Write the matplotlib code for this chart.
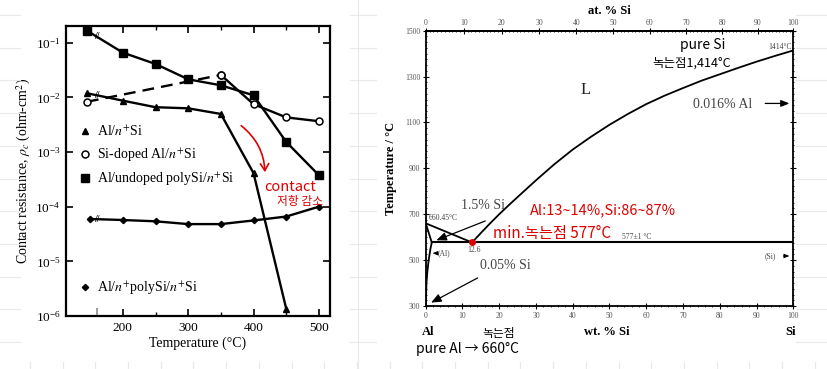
import numpy as np
import matplotlib
matplotlib.use("Agg")
import matplotlib.pyplot as plt
from matplotlib.lines import Line2D
from matplotlib.patches import FancyArrowPatch
from matplotlib.ticker import FixedLocator, NullLocator, LogLocator

plt.rcParams['font.family'] = ['Liberation Serif', 'Noto Sans CJK KR', 'DejaVu Sans']
plt.rcParams['mathtext.fontset'] = 'stix'

# ---------------- data: contact resistance (left) ----------------
T_sq = [145, 200, 250, 300, 350, 400, 450, 500]
rho_sq = [0.166, 0.0658, 0.0408, 0.0214, 0.0166, 0.0109, 0.00153, 0.000376]
T_circ_dash = [145, 350]
rho_circ_dash = [0.0083, 0.0257]
T_circ = [350, 400, 450, 500]
rho_circ = [0.0257, 0.0075, 0.0043, 0.00366]
T_tri = [145, 200, 250, 300, 350, 400, 450]
rho_tri = [0.0119, 0.0087, 0.0066, 0.0063, 0.00497, 0.00041, 1.36e-6]
T_dia = [150, 200, 250, 300, 350, 400, 450, 500]
rho_dia = [5.96e-5, 5.7e-5, 5.4e-5, 4.8e-5, 4.8e-5, 5.6e-5, 6.6e-5, 1.0e-4]
T_ticks = [200, 300, 400, 500]
BREAK_T = 160

# ---------------- data: Al-Si phase diagram (right) ----------------
liq_si_wt = [12.6, 15, 17.5, 20, 22.5, 25, 30, 35, 40, 45, 50, 55, 60, 65, 70, 75, 80, 85, 90, 95, 100]
liq_si_T = [577, 618, 660, 700, 738, 775, 848, 918, 982, 1038, 1090, 1137, 1180, 1217, 1250, 1282,
            1310, 1338, 1365, 1390, 1414]
liq_al_wt = [0, 12.6]
liq_al_T = [660.45, 577]
sol_al_wt = [0, 1.65]
sol_al_T = [660.45, 577]
solvus_wt = [1.65, 1.3, 0.8, 0.45, 0.2, 0.05]
solvus_T = [577, 550, 500, 450, 400, 300]
eut_wt = [1.65, 100]
eut_T = [577, 577]
eut_point = (12.6, 577)
temp_ticks = [300, 500, 700, 900, 1100, 1300, 1500]
pct_ticks = list(range(0, 101, 10))

W, H = 828, 369
fig = plt.figure(figsize=(W / 100, H / 100), dpi=100)
fig.patch.set_facecolor('white')


def fx(px):
    return px / W


def fy(py):
    return 1 - py / H


# faint notebook grid in margins
gcol = '#e9e9e9'
for gy in np.arange(15, 369, 32.7):
    for x0, x1 in [(0, 20), (350, 376), (796, 828)]:
        fig.add_artist(Line2D([fx(x0), fx(x1)], [fy(gy), fy(gy)], color=gcol, lw=0.8))
fig.add_artist(Line2D([fx(358), fx(358)], [0, 1], color=gcol, lw=0.8))
for gx in np.arange(30, 828, 32.7):
    fig.add_artist(Line2D([fx(gx), fx(gx)], [fy(362), fy(369)], color=gcol, lw=0.8))

# ================= LEFT PANEL =================
ax = fig.add_axes([fx(66), fy(316), fx(330) - fx(66), fy(26) - fy(316)])
ax.set_yscale('log')
ax.set_xlim(113, 517)
ax.set_ylim(1e-6, 0.202)
lw = 1.7
ax.plot(T_sq, rho_sq, color='black', lw=lw, marker='s', ms=5.5)
ax.plot(T_circ_dash, rho_circ_dash, color='black', lw=lw, ls=(0, (5, 3)), marker='o', ms=5,
        mfc='white', mew=1.1)
ax.plot(T_circ, rho_circ, color='black', lw=lw, marker='o', ms=5, mfc='white', mew=1.1)
ax.plot(T_tri, rho_tri, color='black', lw=lw, marker='^', ms=5)
ax.plot(T_dia, rho_dia, color='black', lw=lw, marker='D', ms=3.2)

# break marks
for Ts, rs in [(T_sq, rho_sq), (T_tri, rho_tri), (T_dia, rho_dia)]:
    yb = 10 ** np.interp(BREAK_T, Ts, np.log10(rs))
    ax.text(BREAK_T, yb, '//', fontsize=7, ha='center', va='center', fontweight='bold')
ax.text(BREAK_T, 1e-6, '||', fontsize=6, ha='center', va='bottom')

ax.xaxis.set_major_locator(FixedLocator(T_ticks))
ax.xaxis.set_minor_locator(FixedLocator([250, 350, 450]))
ax.yaxis.set_major_locator(LogLocator(base=10, numticks=10))
ax.yaxis.set_minor_locator(NullLocator())
ax.tick_params(which='both', direction='in', top=True, right=True, labelsize=9.5, pad=4)
ax.tick_params(which='major', length=5, width=1.2)
ax.tick_params(which='minor', length=3, width=1)
for s in ax.spines.values():
    s.set_linewidth(1.6)
ax.set_xlabel('Temperature (°C)', fontsize=10, labelpad=2)
ax.set_ylabel(r'Contact resistance, $\rho_c$ (ohm-cm$^2$)', fontsize=10, labelpad=2)

h_tri = Line2D([], [], color='black', marker='^', ms=5, ls='none')
h_circ = Line2D([], [], color='black', marker='o', ms=5, mfc='white', mew=1.1, ls='none')
h_sq = Line2D([], [], color='black', marker='s', ms=5.5, ls='none')
h_dia = Line2D([], [], color='black', marker='D', ms=3.2, ls='none')
leg1 = ax.legend([h_tri, h_circ, h_sq],
                 [r'Al/$n^{+}$Si', r'Si-doped Al/$n^{+}$Si', r'Al/undoped polySi/$n^{+}$Si'],
                 loc='upper left', bbox_to_anchor=(0.05, 0.66), frameon=False, fontsize=10,
                 handlelength=0.8, handletextpad=0.5, labelspacing=0.5, borderpad=0, borderaxespad=0)
ax.add_artist(leg1)
ax.legend([h_dia], [r'Al/$n^{+}$polySi/$n^{+}$Si'], loc='upper left', bbox_to_anchor=(0.05, 0.125),
          frameon=False, fontsize=10, handlelength=0.8, handletextpad=0.5, borderpad=0, borderaxespad=0)

# red handwritten annotation
fig.add_artist(FancyArrowPatch((fx(239), fy(124)), (fx(265), fy(175)), transform=fig.transFigure,
                               connectionstyle='arc3,rad=-0.25', arrowstyle='->,head_length=5,head_width=3',
                               color='#e00000', lw=1.2))
kfam = ['Noto Sans CJK KR', 'DejaVu Sans']
fig.text(fx(290), fy(187), 'contact', color='#e00000', fontsize=10.5, ha='center', va='center', family=kfam)
fig.text(fx(300), fy(201), '저항 감소', color='#e00000', fontsize=8.5, ha='center', va='center', family=kfam)

# ================= RIGHT PANEL =================
bx = fig.add_axes([fx(425.7), fy(306), fx(793.3) - fx(425.7), fy(30.7) - fy(306)])
bx.set_xlim(0, 100)
bx.set_ylim(300, 1500)
lc = 'black'
bx.plot(liq_si_wt, liq_si_T, color=lc, lw=1.3)
bx.plot(liq_al_wt, liq_al_T, color=lc, lw=1.3)
bx.plot(sol_al_wt, sol_al_T, color=lc, lw=1.3)
bx.plot(solvus_wt, solvus_T, color=lc, lw=1.3)
bx.plot(eut_wt, eut_T, color=lc, lw=1.5)
bx.plot([eut_point[0]], [eut_point[1]], 'o', color='#e00000', ms=4, zorder=5)

bx.xaxis.set_major_locator(FixedLocator(pct_ticks))
bx.xaxis.set_minor_locator(FixedLocator(range(0, 101, 2)))
bx.yaxis.set_major_locator(FixedLocator(temp_ticks))
bx.yaxis.set_minor_locator(FixedLocator(range(300, 1501, 25)))
bx.tick_params(which='both', direction='inout', right=True, labelsize=5.5, labelcolor='#555555', pad=2)
bx.tick_params(which='major', length=4, width=0.8)
bx.tick_params(which='minor', length=2, width=0.6)
for s in bx.spines.values():
    s.set_linewidth(1.3)


def wt2at(w):
    w = np.asarray(w, dtype=float)
    a = w / 28.0855
    b = (100 - w) / 26.9815
    return 100 * a / np.where(a + b == 0, 1, a + b)


def at2wt(x):
    x = np.asarray(x, dtype=float)
    a = x * 28.0855
    b = (100 - x) * 26.9815
    return 100 * a / np.where(a + b == 0, 1, a + b)


top = bx.secondary_xaxis('top', functions=(wt2at, at2wt))
top.xaxis.set_major_locator(FixedLocator(pct_ticks))
top.xaxis.set_minor_locator(FixedLocator(range(0, 101, 1)))
top.tick_params(which='both', direction='inout', labelsize=5.5, labelcolor='#555555', pad=1)
top.tick_params(which='major', length=4, width=0.8)
top.tick_params(which='minor', length=2, width=0.6)
top.spines['top'].set_linewidth(1.3)
top.set_xlabel('at. % Si', fontsize=9, fontweight='bold', labelpad=3)

bx.set_ylabel('Temperature / °C', fontsize=9, fontweight='bold', labelpad=6)
fig.text(fx(606.7), fy(331.7), 'wt. % Si', fontsize=9, fontweight='bold', ha='center', va='center')
fig.text(fx(427.7), fy(331.7), 'Al', fontsize=9, fontweight='bold', ha='center', va='center')
fig.text(fx(790.7), fy(331.7), 'Si', fontsize=9, fontweight='bold', ha='center', va='center')

gray = '#444444'
bx.text(43.4, 1241, 'L', fontsize=12, ha='center', va='center', color='#222222')
bx.text(99.5, 1430, '1414°C', fontsize=5.5, ha='right', va='center', color=gray)
bx.text(80.9, 1180, '0.016% Al', fontsize=10, ha='center', va='center', color=gray)
bx.annotate('', xy=(99.7, 1183), xytext=(91.6, 1183),
            arrowprops=dict(arrowstyle='-|>,head_length=0.5,head_width=0.2', color='black', lw=0.9))
bx.text(15.7, 736, '1.5% Si', fontsize=10, ha='center', va='center', color=gray)
bx.annotate('', xy=(2.2, 582), xytext=(16.9, 675),
            arrowprops=dict(arrowstyle='-|>,head_length=0.6,head_width=0.25', color='black', lw=0.9))
bx.text(0.9, 683, '660.45°C', fontsize=5.5, ha='left', va='center', color=gray)
bx.text(13.1, 544, '12.6', fontsize=5.5, ha='center', va='center', color=gray)
bx.text(5.0, 530, '(Al)', fontsize=5.5, ha='center', va='center', color=gray)
bx.annotate('', xy=(1.1, 530), xytext=(3.4, 530),
            arrowprops=dict(arrowstyle='-|>,head_length=0.3,head_width=0.12', color='black', lw=0.7))
bx.text(21.8, 476, '0.05% Si', fontsize=10, ha='center', va='center', color=gray)
bx.annotate('', xy=(0.8, 309), xytext=(14.8, 428),
            arrowprops=dict(arrowstyle='-|>,head_length=0.6,head_width=0.25', color='black', lw=0.9))
bx.text(57.3, 601, '577±1 °C', fontsize=5.5, ha='center', va='center', color=gray)
bx.text(93.7, 518, '(Si)', fontsize=5.5, ha='center', va='center', color=gray)
bx.annotate('', xy=(99.7, 518), xytext=(96.6, 518),
            arrowprops=dict(arrowstyle='-|>,head_length=0.3,head_width=0.12', color='black', lw=0.7))

# handwritten notes
bx.text(75.2, 1438, 'pure Si', fontsize=10, ha='center', va='center', family=kfam)
bx.text(72.3, 1358, '녹는점1,414°C', fontsize=9, ha='center', va='center', family=kfam)
bx.text(48.2, 715, 'Al:13~14%,Si:86~87%', fontsize=10.5, ha='center', va='center', color='#e00000', family=kfam)
bx.text(34.4, 617, 'min.녹는점 577°C', fontsize=11, ha='center', va='center', color='#e00000', family=kfam)
fig.text(fx(499), fy(334), '녹는점', fontsize=8.5, ha='center', va='center', family=kfam)
fig.text(fx(467), fy(349.3), 'pure Al → 660°C', fontsize=10, ha='center', va='center', family=kfam)

fig.savefig('out.png', dpi=100)
